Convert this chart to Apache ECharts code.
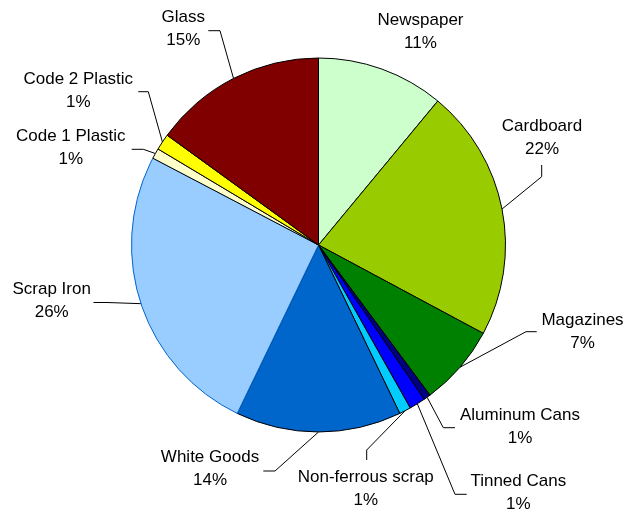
<!DOCTYPE html>
<html>
<head>
<meta charset="utf-8">
<script src="https://cdn.jsdelivr.net/npm/echarts@6/dist/echarts.min.js"></script>
<style>
html,body{margin:0;padding:0;background:#fff;}
#chart{width:626px;height:512px;}
</style>
</head>
<body>
<div id="chart"></div>
<script>
// ---- data ----
const categories = ['Newspaper','Cardboard','Magazines','Aluminum Cans','Tinned Cans','Non-ferrous scrap','White Goods','Scrap Iron','Code 1 Plastic','Code 2 Plastic','Glass'];
const values = [11.0, 21.8, 7.0, 0.6, 1.4, 1.0, 14.3, 25.5, 0.9, 1.4, 15.0];

// ---- styles ----
const colors = ['#CCFFCC','#99CC00','#008000','#000080','#0000FF','#00CCFF','#0066CC','#99CCFF','#FFFFCC','#FFFF00','#800000'];
const borderColors = ['#000','#000','#000','#000','#000','#000','#000','#0066CC','#000','#000','#000'];
// label centres
const labelAnchors = [[420.5,32],[542,137.5],[582.5,331.5],[520,426.7],[518.3,493],[365.8,489],[210,468.8],[51.7,300.7],[70.8,148.3],[78.3,91],[183.3,28.8]];
// leader line elbow and end points
const leaderElbow = [null,[541.7,176.7],[526,331.7],[443.3,427.7],[455,494.3],[366.7,450],[275,471],[107,302.5],[143.3,149.3],[148.3,91.7],[220,30.7]];
const leaderEnd = [null,[541.7,165],[536.7,331.7],[455,427.7],[466.7,494.3],[366.7,460],[263.3,471],[93.5,302.5],[131.7,149.3],[138.3,91.7],[208.3,30.7]];

const total = values.reduce((a,b)=>a+b,0);
const data = categories.map((name,i)=>({
  name: name,
  value: values[i],
  itemStyle: {color: colors[i], borderColor: borderColors[i], borderWidth: 1},
  labelLine: {show: leaderElbow[i] !== null}
}));

const chart = echarts.init(document.getElementById('chart'), null, {renderer:'canvas'});
chart.setOption({
  backgroundColor: '#fff',
  animation: false,
  series: [{
    type: 'pie',
    center: [318.5, 245],
    radius: 187,
    startAngle: 90,
    clockwise: true,
    avoidLabelOverlap: false,
    data: data,
    emphasis: {disabled: true},
    label: {
      show: true,
      position: 'outside',
      fontFamily: 'Liberation Sans, Arial, sans-serif',
      fontSize: 17,
      lineHeight: 23,
      color: '#000',
      align: 'center',
      formatter: function(p){ return p.name + '\n' + Math.round(p.value/total*100) + '%'; }
    },
    labelLine: {
      show: true,
      length: 10,
      length2: 10,
      lineStyle: {color: '#000', width: 1}
    },
    labelLayout: function(params){
      const i = params.dataIndex;
      const res = {x: labelAnchors[i][0], y: labelAnchors[i][1], align: 'center', verticalAlign: 'middle'};
      const p = params.labelLinePoints;
      if (p && leaderElbow[i]) {
        res.labelLinePoints = [p[0], leaderElbow[i], leaderEnd[i]];
      }
      return res;
    }
  }]
});
</script>
</body>
</html>
